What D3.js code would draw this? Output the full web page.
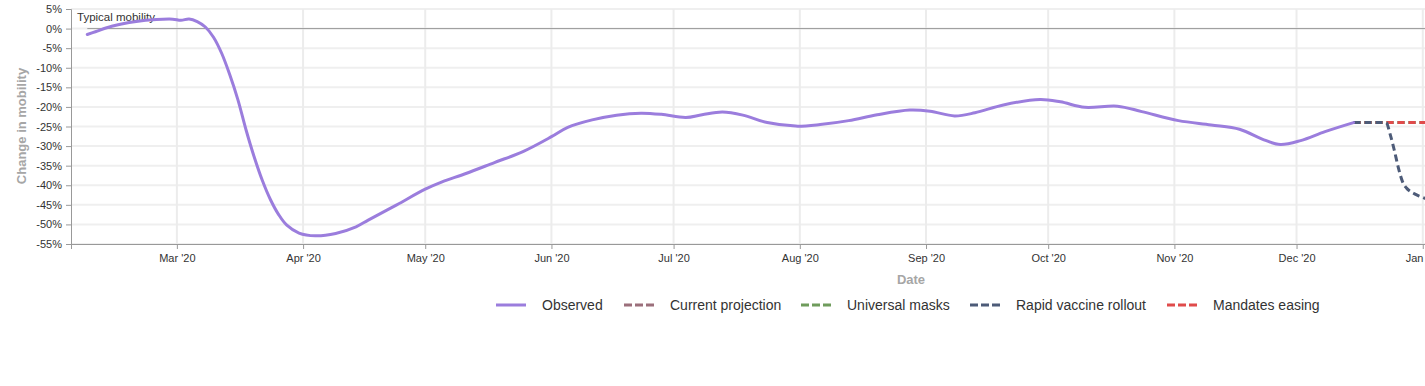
<!DOCTYPE html>
<html>
<head>
<meta charset="utf-8">
<script src="https://cdn.jsdelivr.net/npm/d3@7"></script>
<style>
  html, body { margin: 0; padding: 0; background: #fff; }
  svg { display: block; font-family: "Liberation Sans", Arial, sans-serif; }
</style>
</head>
<body>
<svg id="chart" width="1425" height="386"></svg>
<script>
// ---------- DATA ----------
const observedDates = ["2020-02-08","2020-02-10","2020-02-14","2020-02-20","2020-02-25","2020-02-29","2020-03-02","2020-03-04","2020-03-06","2020-03-08","2020-03-10","2020-03-12","2020-03-14","2020-03-16","2020-03-18","2020-03-20","2020-03-22","2020-03-24","2020-03-26","2020-03-28","2020-03-31","2020-04-04","2020-04-09","2020-04-14","2020-04-17","2020-04-24","2020-05-01","2020-05-05","2020-05-11","2020-05-18","2020-05-25","2020-06-01","2020-06-05","2020-06-11","2020-06-17","2020-06-23","2020-06-28","2020-07-04","2020-07-08","2020-07-13","2020-07-18","2020-07-24","2020-07-31","2020-08-06","2020-08-13","2020-08-20","2020-08-28","2020-09-02","2020-09-08","2020-09-13","2020-09-20","2020-09-29","2020-10-04","2020-10-10","2020-10-18","2020-10-24","2020-11-02","2020-11-10","2020-11-17","2020-11-23","2020-11-27","2020-12-02","2020-12-08","2020-12-15"];
const observedValues = [-1.5,-0.8,0.6,1.8,2.3,2.4,2.1,2.45,1.8,0.4,-2.2,-6.3,-11.8,-18.2,-25.9,-32.8,-38.8,-43.7,-47.5,-50.2,-52.2,-52.9,-52.3,-50.6,-48.9,-45.0,-41.0,-39.2,-37.0,-34.2,-31.4,-27.6,-25.2,-23.3,-22.1,-21.6,-21.9,-22.7,-22.0,-21.3,-22.1,-24.0,-24.9,-24.5,-23.5,-22.0,-20.8,-21.1,-22.3,-21.5,-19.5,-18.1,-18.7,-20.1,-19.8,-21.2,-23.5,-24.6,-25.7,-28.4,-29.6,-28.6,-26.3,-24.0];

const flatDates = ["2020-12-15","2020-12-19","2020-12-23","2020-12-27","2020-12-31","2021-01-04"];
const currentProjectionValues = [-24,-24,-24,-24,-24,-24];
const universalMasksValues = [-24,-24,-24,-24,-24,-24];
const mandatesEasingValues = [-24,-24,-24,-24,-24,-24];

const vaccineDates = ["2020-12-15","2020-12-19","2020-12-23","2020-12-24","2020-12-25","2020-12-26","2020-12-27","2020-12-28","2020-12-29","2020-12-30","2020-12-31","2021-01-01","2021-01-02","2021-01-03"];
const vaccineValues = [-24,-24,-24,-27,-31,-35.5,-39,-40.7,-41.6,-42.2,-42.7,-43.1,-43.5,-43.9];

const yTicks = [5,0,-5,-10,-15,-20,-25,-30,-35,-40,-45,-50,-55];
const xTickDates = ["2020-03-01","2020-04-01","2020-05-01","2020-06-01","2020-07-01","2020-08-01","2020-09-01","2020-10-01","2020-11-01","2020-12-01","2021-01-01"];
const xTickLabels = ["Mar '20","Apr '20","May '20","Jun '20","Jul '20","Aug '20","Sep '20","Oct '20","Nov '20","Dec '20","Jan '21"];

const seriesNames = ["Observed","Current projection","Universal masks","Rapid vaccine rollout","Mandates easing"];
const seriesColors = ["#9b7ddd","#9b6f7b","#6f9c5c","#4d5b78","#e04b4b"];

// ---------- LAYOUT ----------
const parse = d3.utcParse("%Y-%m-%d");
const svg = d3.select("#chart");
const mLeft = 71, mTop = 9, mBottom = 244;

const x = d3.scaleUtc()
  .domain([parse("2020-02-04"), parse("2021-01-03")])
  .range([mLeft, 1430.9]);
const y = d3.scaleLinear().domain([-55, 5]).range([mBottom, mTop]);

const defs = svg.append("defs");
defs.append("clipPath").attr("id", "clip")
  .append("rect").attr("x", mLeft).attr("y", 0).attr("width", 1425 - mLeft).attr("height", mBottom + 2);

// horizontal gridlines
svg.append("g").selectAll("line").data(yTicks).join("line")
  .attr("x1", mLeft).attr("x2", 1425)
  .attr("y1", d => y(d)).attr("y2", d => y(d))
  .attr("stroke", "#efefef").attr("stroke-width", 2);

// vertical gridlines
svg.append("g").selectAll("line").data(xTickDates).join("line")
  .attr("x1", d => x(parse(d))).attr("x2", d => x(parse(d)))
  .attr("y1", mTop).attr("y2", mBottom)
  .attr("stroke", "#ececec").attr("stroke-width", 2);

// typical mobility line
svg.append("line")
  .attr("x1", x(parse(observedDates[0]))).attr("x2", 1425)
  .attr("y1", y(0)).attr("y2", y(0))
  .attr("stroke", "#999").attr("stroke-width", 1);
svg.append("text").attr("x", 77).attr("y", 21)
  .attr("font-size", 11.5).attr("fill", "#333").text("Typical mobility");

// y axis
const yAxis = d3.axisLeft(y).tickValues(yTicks).tickSize(5).tickPadding(4)
  .tickFormat(d => d + "%");
const gy = svg.append("g").attr("transform", `translate(${mLeft},0)`).call(yAxis);
gy.select(".domain").attr("stroke", "#999");
gy.selectAll(".tick line").attr("stroke", "#999");
gy.selectAll(".tick text").attr("font-size", 11).attr("fill", "#333").attr("font-family", "Liberation Sans, Arial, sans-serif");

// x axis
const xAxis = d3.axisBottom(x).tickValues(xTickDates.map(parse)).tickSize(5).tickPadding(5)
  .tickFormat((d, i) => xTickLabels[i]);
const gx = svg.append("g").attr("transform", `translate(0,${mBottom})`).call(xAxis);
gx.select(".domain").attr("stroke", "#999").attr("d", `M${mLeft},0.5H1425`);
gx.selectAll(".tick line").attr("stroke", "#999");
gx.selectAll(".tick text").attr("font-size", 11).attr("fill", "#333").attr("font-family", "Liberation Sans, Arial, sans-serif");
gx.append("line").attr("x1", mLeft + 0.5).attr("x2", mLeft + 0.5).attr("y1", 0).attr("y2", 5).attr("stroke", "#999");

// axis titles
svg.append("text")
  .attr("transform", `translate(26,126) rotate(-90)`)
  .attr("text-anchor", "middle").attr("font-size", 13).attr("font-weight", "bold")
  .attr("fill", "#a6a6a6").text("Change in mobility");
svg.append("text").attr("x", 911).attr("y", 284)
  .attr("text-anchor", "middle").attr("font-size", 13).attr("font-weight", "bold")
  .attr("fill", "#a6a6a6").text("Date");

// lines
const smooth = d3.line().x(d => x(d[0])).y(d => y(d[1])).curve(d3.curveCatmullRom.alpha(0.5));
const mono = d3.line().x(d => x(d[0])).y(d => y(d[1])).curve(d3.curveMonotoneX);
const zip = (ds, vs) => ds.map((d, i) => [parse(d), vs[i]]);
const plot = svg.append("g").attr("clip-path", "url(#clip)");

const dash = "7,4";
plot.append("path").datum(zip(flatDates, currentProjectionValues)).attr("d", mono)
  .attr("fill", "none").attr("stroke", seriesColors[1]).attr("stroke-width", 3).attr("stroke-dasharray", dash);
plot.append("path").datum(zip(flatDates, universalMasksValues)).attr("d", mono)
  .attr("fill", "none").attr("stroke", seriesColors[2]).attr("stroke-width", 3).attr("stroke-dasharray", dash);
plot.append("path").datum(zip(flatDates, mandatesEasingValues)).attr("d", mono)
  .attr("fill", "none").attr("stroke", seriesColors[4]).attr("stroke-width", 3).attr("stroke-dasharray", dash);
plot.append("path").datum(zip(vaccineDates, vaccineValues)).attr("d", mono)
  .attr("fill", "none").attr("stroke", seriesColors[3]).attr("stroke-width", 3).attr("stroke-dasharray", dash);
plot.append("path").datum(zip(observedDates, observedValues)).attr("d", smooth)
  .attr("fill", "none").attr("stroke", seriesColors[0]).attr("stroke-width", 3)
  .attr("stroke-linejoin", "round").attr("stroke-linecap", "round");

// legend
const legendX = [496, 624, 801, 970, 1167];
const lg = svg.append("g");
seriesNames.forEach((name, i) => {
  const g = lg.append("g").attr("transform", `translate(${legendX[i]},305)`);
  g.append("line").attr("x1", 0).attr("x2", 30).attr("y1", 0).attr("y2", 0)
    .attr("stroke", seriesColors[i]).attr("stroke-width", 3)
    .attr("stroke-dasharray", i === 0 ? null : "8,3");
  g.append("text").attr("x", 46).attr("y", 5).attr("font-size", 14).attr("fill", "#333").text(name);
});
</script>
</body>
</html>
